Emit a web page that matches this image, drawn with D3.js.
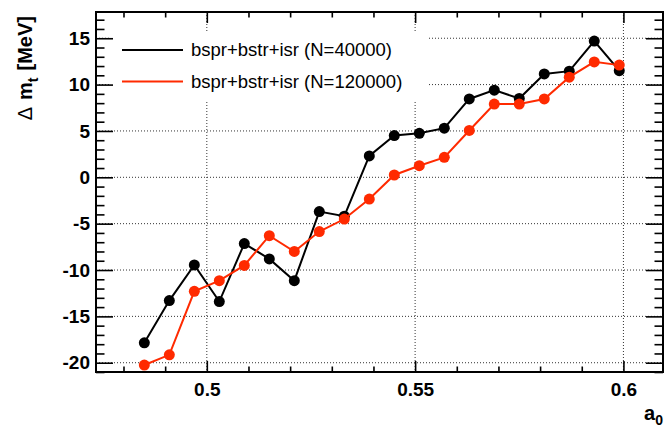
<!DOCTYPE html>
<html>
<head>
<meta charset="utf-8">
<script src="https://cdn.jsdelivr.net/npm/d3@7"></script>
<style>
  body { margin: 0; background: #fff; }
  text { font-family: "Liberation Sans", Arial, Helvetica, sans-serif; }
</style>
</head>
<body>
<div class="chart"></div>
<script>
// data
var a0Values = [0.485, 0.491, 0.497, 0.503, 0.509, 0.515, 0.521, 0.527, 0.533, 0.539,
                0.545, 0.551, 0.557, 0.563, 0.569, 0.575, 0.581, 0.587, 0.593, 0.599];
var dmtN40k = [-17.85, -13.3, -9.45, -13.4, -7.15, -8.8, -11.15, -3.7, -4.2, 2.3,
               4.5, 4.75, 5.3, 8.45, 9.4, 8.5, 11.15, 11.45, 14.7, 11.5];
var dmtN120k = [-20.25, -19.15, -12.3, -11.15, -9.5, -6.3, -8.0, -5.85, -4.5, -2.35,
                0.25, 1.25, 2.15, 5.05, 7.9, 7.9, 8.45, 10.8, 12.45, 12.1];
var seriesNames = ["bspr+bstr+isr (N=40000)", "bspr+bstr+isr (N=120000)"];
var seriesColors = ["#000000", "#ff2a00"];
var xMajorTicks = [0.5, 0.55, 0.6];
var xTickLabels = ["0.5", "0.55", "0.6"];
var yMajorTicks = [-20, -15, -10, -5, 0, 5, 10, 15];
var yTickLabels = ["-20", "-15", "-10", "-5", "0", "5", "10", "15"];

var svgWidth = 668;
var svgHeight = 427;

var margin = { top: 12, right: 5, bottom: 55, left: 96 };
var width = svgWidth - margin.left - margin.right;
var height = svgHeight - margin.top - margin.bottom;

var svg = d3.select(".chart")
  .append("svg")
  .attr("width", svgWidth)
  .attr("height", svgHeight);

svg.append("rect")
  .attr("width", svgWidth)
  .attr("height", svgHeight)
  .attr("fill", "#fff");

var chartGroup = svg.append("g")
  .attr("transform", `translate(${margin.left}, ${margin.top})`);

var xScale = d3.scaleLinear()
  .domain([0.4734, 0.6095])
  .range([0, width]);

var yScale = d3.scaleLinear()
  .domain([-21.0, 17.83])
  .range([height, 0]);

// dotted grid at major ticks
chartGroup.selectAll(".vgrid")
  .data(xMajorTicks)
  .enter()
  .append("line")
  .attr("x1", d => xScale(d))
  .attr("x2", d => xScale(d))
  .attr("y1", 0)
  .attr("y2", height)
  .attr("stroke", "#333")
  .attr("stroke-width", 1)
  .attr("stroke-dasharray", "1,2");

chartGroup.selectAll(".hgrid")
  .data(yMajorTicks)
  .enter()
  .append("line")
  .attr("x1", 0)
  .attr("x2", width)
  .attr("y1", d => yScale(d))
  .attr("y2", d => yScale(d))
  .attr("stroke", "#333")
  .attr("stroke-width", 1)
  .attr("stroke-dasharray", "1,2");

// legend background (covers grid)
chartGroup.append("rect")
  .attr("x", 14)
  .attr("y", 20)
  .attr("width", 317)
  .attr("height", 68)
  .attr("fill", "#fff");

// series
var seriesData = [dmtN40k, dmtN120k];
var line = d3.line()
  .x((d, i) => xScale(a0Values[i]))
  .y(d => yScale(d));

seriesData.forEach(function(vals, k) {
  chartGroup.append("path")
    .datum(vals)
    .attr("d", line)
    .attr("fill", "none")
    .attr("stroke", seriesColors[k])
    .attr("stroke-width", 2);

  chartGroup.selectAll(".pt" + k)
    .data(vals)
    .enter()
    .append("circle")
    .attr("cx", (d, i) => xScale(a0Values[i]))
    .attr("cy", d => yScale(d))
    .attr("r", 5.5)
    .attr("fill", seriesColors[k]);
});

// axes: major + minor ticks on all four sides
var xMinor = d3.range(0.48, 0.6051, 0.01).filter(v => !xMajorTicks.some(m => Math.abs(m - v) < 1e-6));
var yMinor = d3.range(-21, 18, 1).filter(v => v % 5 !== 0);

function styleAxis(g) {
  g.select(".domain").remove();
  g.selectAll("line").attr("stroke", "#000").attr("stroke-width", 1.6);
  g.selectAll("text")
    .attr("fill", "#000")
    .style("font-size", "19px")
    .style("font-weight", "bold")
    .style("font-family", "'Liberation Sans', Arial, sans-serif");
}

chartGroup.append("g")
  .attr("transform", `translate(0, ${height})`)
  .call(d3.axisBottom(xScale).tickValues(xMajorTicks)
    .tickFormat((d, i) => xTickLabels[i]).tickSizeInner(-11).tickSizeOuter(0).tickPadding(11))
  .call(styleAxis);
chartGroup.append("g")
  .attr("transform", `translate(0, ${height})`)
  .call(d3.axisBottom(xScale).tickValues(xMinor).tickFormat("").tickSizeInner(-5.5).tickSizeOuter(0))
  .call(styleAxis);
chartGroup.append("g")
  .call(d3.axisTop(xScale).tickValues(xMajorTicks).tickFormat("").tickSizeInner(-11).tickSizeOuter(0))
  .call(styleAxis);
chartGroup.append("g")
  .call(d3.axisTop(xScale).tickValues(xMinor).tickFormat("").tickSizeInner(-5.5).tickSizeOuter(0))
  .call(styleAxis);

chartGroup.append("g")
  .call(d3.axisLeft(yScale).tickValues(yMajorTicks)
    .tickFormat((d, i) => yTickLabels[i]).tickSizeInner(-17).tickSizeOuter(0).tickPadding(6))
  .call(styleAxis);
chartGroup.append("g")
  .call(d3.axisLeft(yScale).tickValues(yMinor).tickFormat("").tickSizeInner(-8.5).tickSizeOuter(0))
  .call(styleAxis);
chartGroup.append("g")
  .attr("transform", `translate(${width}, 0)`)
  .call(d3.axisRight(yScale).tickValues(yMajorTicks).tickFormat("").tickSizeInner(-17).tickSizeOuter(0))
  .call(styleAxis);
chartGroup.append("g")
  .attr("transform", `translate(${width}, 0)`)
  .call(d3.axisRight(yScale).tickValues(yMinor).tickFormat("").tickSizeInner(-8.5).tickSizeOuter(0))
  .call(styleAxis);

// frame
chartGroup.append("rect")
  .attr("width", width)
  .attr("height", height)
  .attr("fill", "none")
  .attr("stroke", "#000")
  .attr("stroke-width", 2);

// legend entries
seriesNames.forEach(function(name, k) {
  var ly = 38 + k * 31.5;
  chartGroup.append("line")
    .attr("x1", 26).attr("x2", 87)
    .attr("y1", ly).attr("y2", ly)
    .attr("stroke", seriesColors[k])
    .attr("stroke-width", 2);
  chartGroup.append("text")
    .attr("x", 95)
    .attr("y", ly)
    .attr("dy", "0.35em")
    .style("font-size", "18.5px")
    .attr("fill", "#000")
    .text(name);
});

// axis titles
var xTitle = svg.append("text")
  .attr("x", 663)
  .attr("y", 420)
  .attr("text-anchor", "end")
  .style("font-size", "20px")
  .style("font-weight", "bold");
xTitle.append("tspan").text("a");
xTitle.append("tspan").attr("dy", 5).style("font-size", "14px").text("0");

var yTitle = svg.append("text")
  .attr("transform", "translate(32, 16) rotate(-90)")
  .attr("text-anchor", "end")
  .style("font-size", "20px")
  .style("font-weight", "bold");
yTitle.append("tspan").style("font-weight", "normal").text("\u0394");
yTitle.append("tspan").attr("dx", 7).text("m");
yTitle.append("tspan").attr("dy", 6).style("font-size", "14px").text("t");
yTitle.append("tspan").attr("dy", -6).attr("dx", 7).text("[MeV]");
</script>
</body>
</html>
